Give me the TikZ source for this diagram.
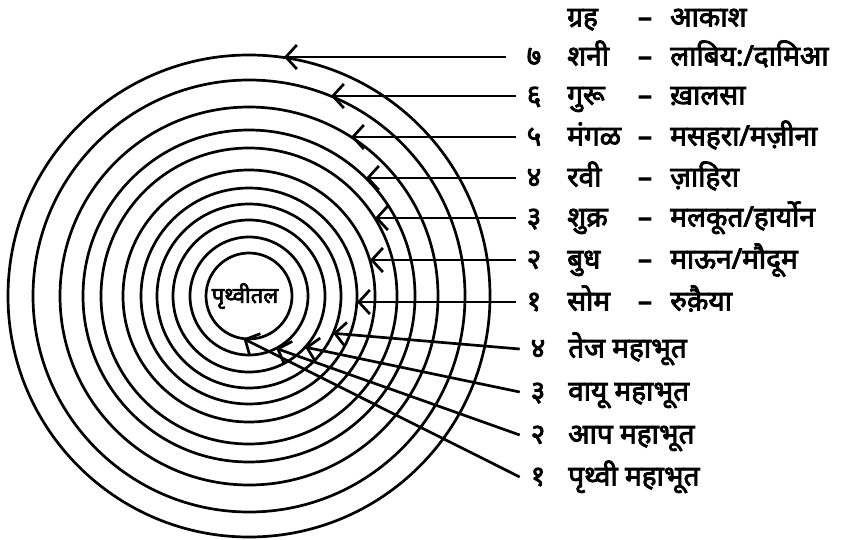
\documentclass[tikz,border=0pt]{standalone}
\usepackage{fontspec}
\newfontfamily\dev[Script=Devanagari,FakeBold=3]{Noto Sans}
\usetikzlibrary{arrows.meta,calc}

\tikzset{
  ring/.style={line width=2.7pt},
  pointer/.style={line width=2.7pt,-{Straight Barb[length=11pt,width=24pt]}},
  lbl/.style={font=\dev\fontsize{28}{28}\selectfont,inner sep=0pt,text height=17pt,text depth=0pt},
  numlbl/.style={lbl,outer sep=11pt},
  namelbl/.style={lbl,anchor=west},
}

\begin{document}
\begin{tikzpicture}[x=1pt,y=-1pt]
\useasboundingbox (0,0) rectangle (848,540);

\coordinate (C) at (249,296);
\foreach \r in {241,216,189,166,148,126,108,92,76,59,43}
  \draw[ring] (C) circle[radius=\r pt];

\node[font=\dev\fontsize{22}{22}\selectfont] (tal) at (245,296) {पृथ्वीतल};

% where the arrows meet the rings
\coordinate (t7) at (284,57);
\coordinate (t6) at (331,96);
\coordinate (t5) at (351,137);
\coordinate (t4) at (366,178);
\coordinate (t3) at (375,218);
\coordinate (t2) at (370,260);
\coordinate (t1) at (357,302);
\coordinate (e4) at ($(C)+(23.9:92)$);
\coordinate (e3) at ($(C)+(42.3:76)$);
\coordinate (e2) at ($(C)+(62.6:59)$);
\coordinate (e1) at ($(C)+(97.3:43)$);

\node[namelbl] (hgr) at (567,18) {ग्रह};
\node[lbl] (hd) at (645,18) {–};
\node[namelbl] (hak) at (670,18) {आकाश};

\node[numlbl] (n7) at (534,57) {७};
\node[namelbl] (g7) at (567,57) {शनी};
\node[lbl] (d7) at (645,57) {–};
\node[namelbl] (a7) at (670,57) {लाबिय:/दामिआ};

\node[numlbl] (n6) at (534,96) {६};
\node[namelbl] (g6) at (567,96) {गुरू};
\node[lbl] (d6) at (645,96) {–};
\node[namelbl] (a6) at (670,96) {ख़ालसा};

\node[numlbl] (n5) at (534,137) {५};
\node[namelbl] (g5) at (567,137) {मंगळ};
\node[lbl] (d5) at (645,137) {–};
\node[namelbl] (a5) at (670,137) {मसहरा/मज़ीना};

\node[numlbl] (n4) at (534,178) {४};
\node[namelbl] (g4) at (567,178) {रवी};
\node[lbl] (d4) at (645,178) {–};
\node[namelbl] (a4) at (670,178) {ज़ाहिरा};

\node[numlbl] (n3) at (534,218) {३};
\node[namelbl] (g3) at (567,218) {शुक्र};
\node[lbl] (d3) at (645,218) {–};
\node[namelbl] (a3) at (670,218) {मलकूत/हार्योन};

\node[numlbl] (n2) at (534,260) {२};
\node[namelbl] (g2) at (567,260) {बुध};
\node[lbl] (d2) at (645,260) {–};
\node[namelbl] (a2) at (670,260) {माऊन/मौदूम};

\node[numlbl] (n1) at (534,302) {१};
\node[namelbl] (g1) at (567,302) {सोम};
\node[lbl] (d1) at (645,302) {–};
\node[namelbl] (a1) at (670,302) {रुक़ैया};

\node[numlbl] (m4) at (538,349) {४};
\node[namelbl] (b4) at (568,349) {तेज महाभूत};
\node[numlbl] (m3) at (538,392) {३};
\node[namelbl] (b3) at (568,392) {वायू महाभूत};
\node[numlbl] (m2) at (538,435) {२};
\node[namelbl] (b2) at (568,435) {आप महाभूत};
\node[numlbl] (m1) at (538,477) {१};
\node[namelbl] (b1) at (568,477) {पृथ्वी महाभूत};

\draw[pointer] ([xshift=-10pt]n7.west) -- (t7);
\draw[pointer] (n6.west) -- (t6);
\draw[pointer] (n5.west) -- (t5);
\draw[pointer] (n4.west) -- (t4);
\draw[pointer] (n3.west) -- (t3);
\draw[pointer] (n2.west) -- (t2);
\draw[pointer] (n1.west) -- (t1);
\draw[pointer] (m4.west) -- (e4);
\draw[pointer] (m3.west) -- (e3);
\draw[pointer] (m2.west) -- (e2);
\draw[pointer] (m1.west) -- (e1);

\end{tikzpicture}
\end{document}
